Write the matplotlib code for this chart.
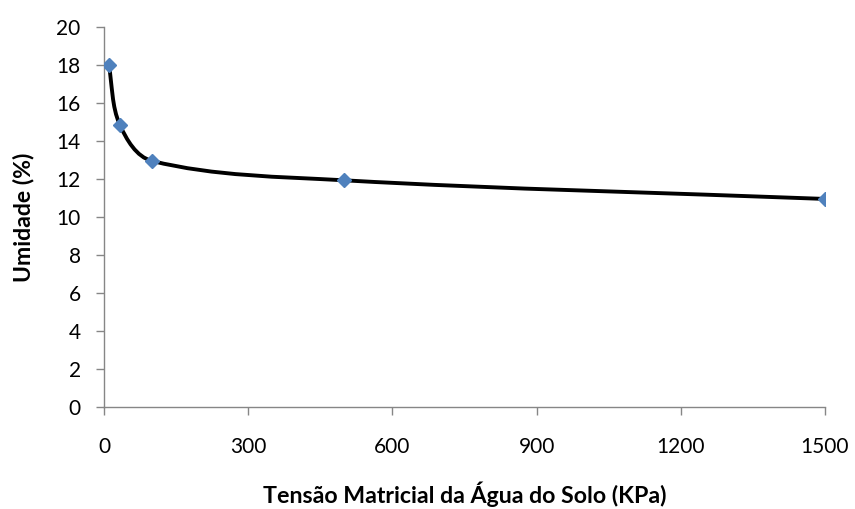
import numpy as np
import matplotlib
matplotlib.use("Agg")
import matplotlib.pyplot as plt
from matplotlib.path import Path
from matplotlib.patches import PathPatch

# data
tensao = [10, 33, 100, 500, 1500]
umidade = [18.0, 14.85, 12.95, 11.93, 10.95]
xticks = [0, 300, 600, 900, 1200, 1500]
yticks = list(range(0, 21, 2))

plt.rcParams['font.family'] = ['Lato', 'DejaVu Sans']

fig = plt.figure(figsize=(8.55, 5.09), dpi=100)
ax = fig.add_axes([0.1216, 0.2004, 0.8433, 0.7466])
ax.set_xlim(0, 1500)
ax.set_ylim(0, 20)

# smoothed line, control points worked out in screen space
pts = ax.transData.transform(np.column_stack([tensao, umidade]))
n = len(pts)


def tangent(i):
    a = pts[i - 1] if i > 0 else pts[i]
    b = pts[i + 1] if i + 1 < n else pts[i]
    d = b - a
    return d / np.hypot(*d)


verts = [pts[0]]
codes = [Path.MOVETO]
for i in range(n - 1):
    p1 = pts[i]
    p2 = pts[i + 1]
    seg = np.hypot(*(p2 - p1))
    c1 = p1 + tangent(i) * seg / 3.0
    c2 = p2 - tangent(i + 1) * seg / 3.0
    verts += [c1, c2, p2]
    codes += [Path.CURVE4] * 3
verts = ax.transData.inverted().transform(np.array(verts))
curve = PathPatch(Path(verts, codes), facecolor='none', edgecolor='black',
                  lw=2.8, capstyle='round', zorder=2)
ax.add_patch(curve)

ax.plot(tensao, umidade, linestyle='none', marker='D', markersize=7.5,
        color='#4F81BD', zorder=3)

ax.set_xticks(xticks)
ax.set_yticks(yticks)
for s in ['top', 'right']:
    ax.spines[s].set_visible(False)
for s in ['left', 'bottom']:
    ax.spines[s].set_color('#868686')
    ax.spines[s].set_linewidth(1.0)
ax.tick_params(axis='both', direction='out', length=5.8, width=1.0,
               color='#868686', labelsize=15, labelcolor='#000000')
ax.tick_params(axis='x', pad=16)
ax.tick_params(axis='y', pad=11)

xl = ax.set_xlabel('Tensão Matricial da Água do Solo (KPa)', fontsize=14,
                   fontweight='bold', va='baseline')
yl = ax.set_ylabel('Umidade (%)', fontsize=14, fontweight='bold')

# size the titles to the length they take in the original
fig.canvas.draw()
r = fig.canvas.get_renderer()
xl.set_fontsize(14 * 405 / xl.get_window_extent(r).width)
yl.set_fontsize(14 * 130 / yl.get_window_extent(r).height)

ax.xaxis.set_label_coords(0.5, (407 - 503) / 380)
yl.set_va('center')
ax.yaxis.set_label_coords((24 - 104) / 721, 0.5)

fig.savefig('out.png', dpi=100)
